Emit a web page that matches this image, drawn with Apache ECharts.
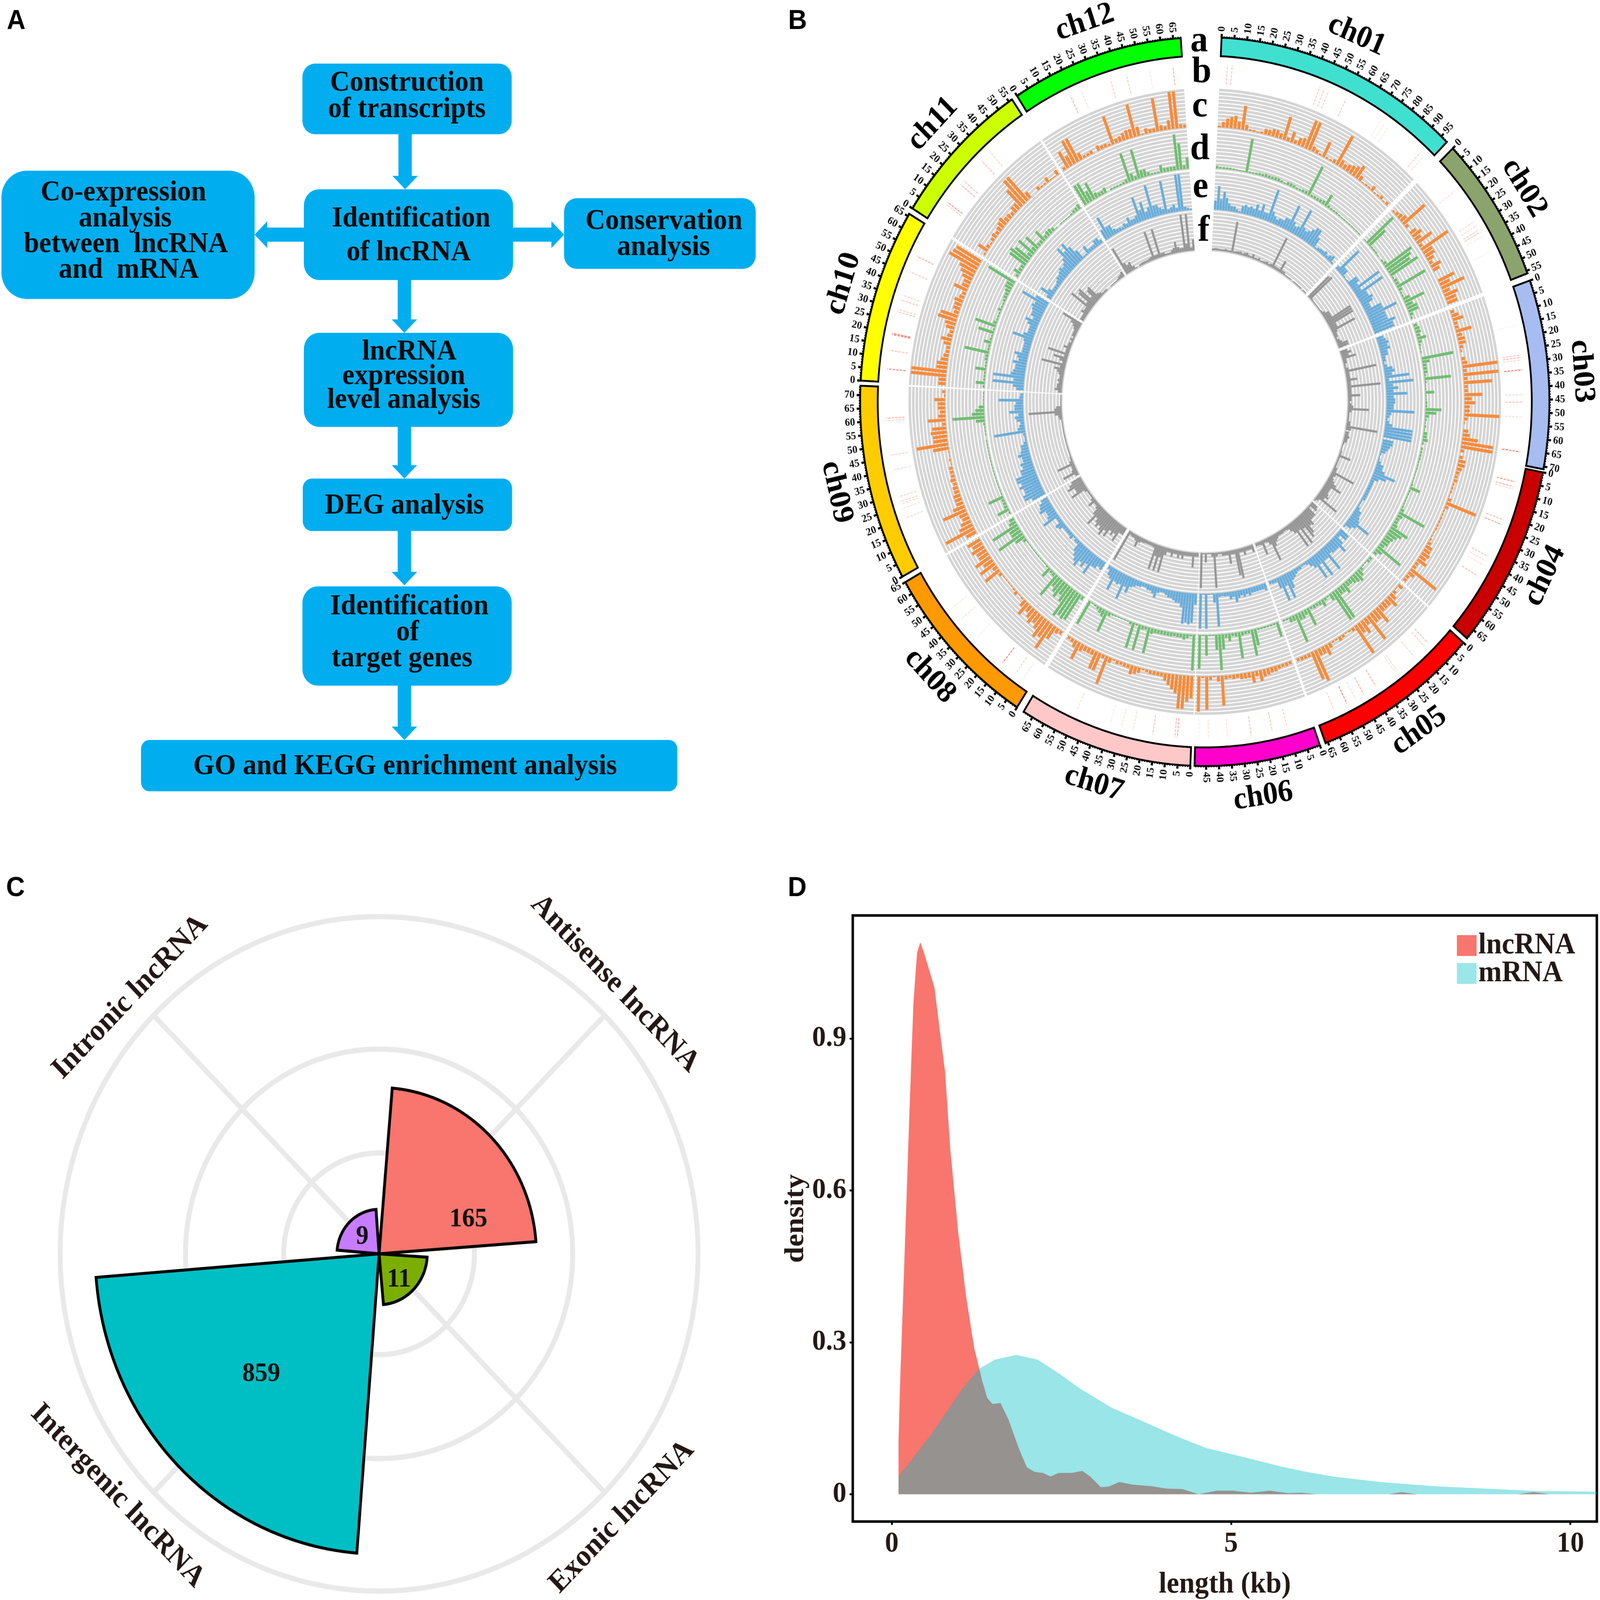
<!DOCTYPE html>
<html><head><meta charset="utf-8">
<style>html,body{margin:0;padding:0;background:#fff;overflow:hidden;width:100%;height:100%}#c{width:4550px;height:4303px;transform-origin:0 0}</style>
<script src="https://cdn.jsdelivr.net/npm/echarts@6/dist/echarts.min.js"></script>
</head><body><div id="c"></div>
<script>
const SERIF='"Liberation Serif"', SANS='"Liberation Sans"', INK='#231815';

// ---------- Panel A : flow chart ----------
const flowBoxes=[[860,171,595,190,36],[864,509,595,244,44],[4,459,720,345,72],[1604,533,545,190,36],[864,895,595,253,44],[861,1287,595,141,26],[860,1577,595,267,44],[401,1990,1525,138,24]];
const flowArrows=[[1152,361,1152,509],[864,631,724,631],[1459,631,1604,631],[1150,753,1150,895],[1150,1148,1150,1287],[1150,1428,1150,1574],[1150,1844,1150,1990]];
const flowText=[['Construction',1157,224],['of transcripts',1157,295],['Identification',1169,589],['of lncRNA',1162,680],['Co-expression',351,519],['analysis',356,589],['between  lncRNA',358,658],['and  mRNA',366,727],['Conservation',1888,596],['analysis',1887,666],['lncRNA',1164,947],['expression',1148,1013],['level analysis',1148,1077],['DEG analysis',1150,1361],['Identification',1164,1632],['of',1159,1702],['target genes',1143,1772],['GO and KEGG enrichment analysis',1152,2062]];
const panelTags=[['A',46,58],['B',2268,58],['C',44,2390],['D',2267,2390]];
const trackTags=[['a',3410,112],['b',3417,195],['c',3412,287],['d',3412,402],['e',3414,504],['f',3423,622]];

// ---------- Panel B : circos ----------
const chromNames=['ch01','ch02','ch03','ch04','ch05','ch06','ch07','ch08','ch09','ch10','ch11','ch12'];
const chromStart=[2.8,46,70.6,101.2,131.4,160.5,182.4,213,241.3,273.3,302,327];
const chromEnd=[44.6,69.4,100.7,130.5,159.5,181.7,211.7,240.3,272.5,301,326,356];
const chromLen=[98,56,71,69,66,49.5,69,65,73.5,66,56.5,68];
const chromColor=['#40E0D0','#8BA36C','#A7BCF0','#C80000','#FF0000','#FF00CC','#FFC8C8','#FF9900','#FFCC00','#FFFF00','#CCFF00','#00FF00'];

// track b : [Mb, strength]
const trackB=[
[[3,.35],[5,.4],[43,.35],[45,.35],[47,.3],[55,.35],[72,.12],[74,.12],[76,.12],[93,.3],[95,.2]],
[[13,.2],[28,.25],[30,.25],[32,.3],[33,.35],[35,.15],[42,.1]],
[[15,.1],[27,.4],[28,.45],[29,.25],[33,.9],[43,.25],[46,.4],[52,.2],[66,.85]],
[[6,.7],[8,.5],[9,.25],[22,.4],[24,.6],[38,.4],[40,.25],[42,.2],[47,.4]],
[[10,.4],[12,.3],[18,.25],[27,.25],[28,.2],[38,.5],[44,.5],[52,.8],[58,.3],[48,.25]],
[[10.6,.3],[17,.4],[26,.4],[36,.2],[44,.2],[48,.1]],
[[6,.6],[7,.5],[16.5,.4],[25,.2],[30,.2],[35,.15],[50,.2]],
[[4,.15],[8,.3],[15,.8],[30,.1],[40,.2],[46,.15]],
[[61,.5],[60,.3],[46,.3],[40,.25],[29,.3],[27,.3],[26,.25],[24,.2],[20,.25]],
[[5.4,.8],[13,.4],[19.5,.9],[20,.9],[29,.4],[30,.3],[34,.4],[36,.3],[46,.35],[53,.55]],
[[9,.3],[10,.7],[19,.5],[21,.4],[32,.4],[37,.3]],
[[19,.5],[24,.2],[37,.3],[44,.35],[54,.15],[64,.5]]];

// tracks c-f : one value per 2 Mb bin, per chromosome
const trackC=[
[.5,1.5,2.5,3,3.5,2,6.5,1.5,.5,.5,.3,.5,1.5,1.5,2,2,1.5,6.5,1,3,1,2,2.5,8,8,1.5,1,.5,4.5,.5,.5,1,9,2,1.5,2,2.5,3,4,1.5,.3,.5,.5,1.5,.3,.5,1,.3,.8],
[.5,1,1.5,2,8,1,0,2,3,2,5,1,9,3,3,2,1,3,2,0,0,5,3,7,2,4,3,3],
[1,2,3,1,1,4.5,1.5,2,2,1,.5,0,1,1.5,10,1,10,1,8,1,1,5,2,3,1.5,1.5,10,1,.3,0,1.5,2,4.5,9,9,1],
[1,2,2,1.5,1,.8,1,.5,.5,.5,.3,1,9,1,.4,.4,.5,.5,.5,.5,.3,.3,.5,1,2,2,2.5,2,3,1,1,9,2,1,1],
[1.5,.3,1,2,3.5,2,2,2,5,3,3,8,2,4,3,9,1,.5,.3,.8,1.2,.5,.5,1.5,3,2,2,9,8,1,1,1,.8],
[.8,1,.8,1,1.5,1.5,1.8,2,3,1.5,3,1.5,1.5,1.5,1,1.2,.8,1,8,1.5,.3,1,9,.5,9.5],
[6,7,9,9,5,4,3,2,1,1,1,1,.7,.5,1.5,2,2.5,1,1,.8,1,.5,1.5,8,1,5,5,1.5,1.5,1.5,2,5,2,1,.8],
[1,1.5,4,8,5,6,4,3,4,3,2,4,2,.5,.3,1,.5,.3,.3,.3,.3,1,5,1.5,5,3,5,3,3,4,3,4],
[3,9,4,3,2,2.5,7,3.5,2,2,2,1.5,1.5,1,1.5,1,1,1,.3,.5,.3,.3,4.5,9,4,4,4.5,4,1,5,2,1.5,2,2,3,.3,.8],
[2,2,10,10,3,3,2,1.5,1,1,2,3,1.5,1,2.5,3,5.5,5,1.5,2,2,2.5,1.5,1,4,2,2,3,4,5,9,8.5,8],
[.5,3,1,.5,1,1.5,1,1.5,2,2.5,1.5,1.5,1,2,2,6,8.5,8.5,2,0,0,1,.5,.5,1.5,.3,.3,1.5],
[.8,5,3,7,7,2,.7,.7,1,0,1.5,1,1,.6,8,1.2,1.5,2,2.5,2.5,9,2.5,.4,1.5,1,1,9,1.5,1,2.5,10,10,1,.8]];
const trackD=[
[.7,.5,.5,.5,.5,.4,.3,.3,.3,9,.4,.4,.5,.6,.6,.8,.7,.7,.8,.8,.6,.4,.8,.8,.7,.5,.5,.7,.8,8.6,.6,.7,.7,.8,1,3.5,.7,.5,.5,.5,.4,.3,.3,.3,.3,.3,.3,.3,.3],
[.3,10,6,.5,.5,.5,.3,0,.5,1,9,8,7,9,.5,1,1,9,1,.5,.5,2,6,2,3,3,1,.5],
[1,1.5,1.5,1,2.5,1,.5,.3,.3,0,9,2,1,1,1,.5,7.5,.5,.3,.3,2.5,.3,.3,.5,.5,4.5,3,1,.5,.3,.5,.3,1,1,1.5,.5],
[.5,.5,.5,.5,.4,.4,.4,.3,.3,.3,.3,.5,3,.5,.4,.4,.4,.4,.5,1,8,1.5,1,1,1.5,5.5,4,3,2.5,2,2,1.5,8,2,1],
[.8,.8,.3,.3,1,2,3,2.5,2,1.5,1.5,3,2,2,9,9,2,.5,.8,2,1,.8,1,.7,5,1.5,2,2,8,1.5,1.5,.5,.5],
[4,.5,.5,.5,.5,.5,.5,4.5,7,.8,.8,1,7,1,.7,2,1,4,9.5,4,.3,.3,5.5,.3,9],
[9.5,.5,1,1.5,1,1,.8,1,1,1,1,1,1,1.5,7,.8,1,7,.5,7,.7,.3,.3,.3,.3,.4,.5,1,6,2,1.5,.8,.5,.3,7],
[1,8,8.5,8,9,5,3.5,5,4,3,7,1,.8,3,.5,.3,.3,.3,.3,.3,.3,.3,.3,.3,1,3,8,3,3,8,2,1.5],
[.5,3.5,1,.8,.8,4.5,.3,.3,.3,.3,.3,.3,.3,.3,.3,.3,.3,.3,.3,.3,.3,.3,.3,0,.3,.3,.3,.5,2.5,9,3.5,2.5,1.5,.3,.3,.3,.3],
[.5,2.5,.5,.5,.5,3,.5,.5,.8,.8,7,.6,.6,2,.6,.5,4.5,.5,6,1,.5,.5,.5,1,.5,.5,.7,1,1,1.5,2,2,8.5],
[.8,2,1,1,5.5,6,5,1.5,5.5,1.5,4.5,1,1,3.5,1,1.5,1.5,1,.3,0,.3,.3,.3,.3,.5,.8,1,1.5],
[6,6,3,5,1.5,1,1,1.5,0,.5,.5,.5,.5,.6,1,8,2,1,8,2,2,1,.5,.5,.5,2,1,1,1,1,9.5,7,1,3]];
const trackE=[
[2.5,6.5,3,5,3.5,2,1.5,1.5,.8,.5,2,2.5,2,2.5,2,3.5,2,4,2,2,9,3,2,1.5,2,2,3,3,7.5,3,2,2.5,8,3,2.5,3,4,5,5,3,.5,.8,1,1,1.5,.8,1.5,2,.5],
[1,8,2,2,.5,.3,.5,3,3,2,9,2,9,3,3,4,3.5,2,2,5,5,9,5,5,5,7,6,6],
[2,2.5,3,2.5,3,2,2,1,1,.5,1,2.5,3,2,7,1,8,2,3.5,2,6,2,2.5,2.5,2,2,8,1.5,1,.5,1,2,8,8,8,8],
[3,3,2.5,2,1.5,.5,.3,.5,1,2,2,3,6.5,4,2,1,1,1,1,1,1,1,1,.5,.5,.5,1,2,2,2.5,3,7,3,2,.5],
[3,3,1,3,5,3,3,3,2.5,7.5,3,3,7.5,3,7,3,2,1,.6,.6,1,1,1.5,2,2.5,4.5,7,3,7,3,1,1,.8],
[2,1.5,1.5,1.5,1.5,1.5,2,1.5,2,1.5,2,3,1.5,2,1,1,.8,1,9,2.5,.3,.3,9.5,.3,9.5],
[3,8,8.5,8,8.5,4,3,3,2.5,2,2,1.5,1,1,1.5,3,2,1.5,1.5,1,1,1.5,1.5,2,2.5,4.5,3,7,3,3.5,3,6,3,2.5,1],
[2.5,2,3,3,6,3.5,5,4,6,5,4,3,1,1,.5,1.5,1,1,1,1,2,2.5,1,1,5,3,2.5,2.5,4,3.5,3,2],
[4,6,6,5,5,6,5,6,6,4,4,3,3.5,2.5,2.5,3.5,2.5,2,2,1,.5,.5,.7,9,2,1.5,1,2,2.5,1.5,4,2.5,2.5,2,7,1,.7],
[2,3,9,3,9,4,3.5,3,3,4,2.5,3,4,2,2,2,2,2.5,6,3,2,2,2,3,4,2,3,3,3.5,4,3.5,8,4],
[1.5,4,2,1,1,1,1.5,2,2,2.5,3,2.5,3,4,7,5,7,5,3,.5,.5,2.5,1,1,1,2,2,1],
[3,6.5,3,3,1.5,1,1,.7,1.5,1,2.5,1.5,1.5,2,7,3,5,2,3,9,3,3,2,1.5,9,1,1.5,2,1,10,10,1,.6,.4]];
const trackF=[
[.5,.6,.6,.5,.5,.5,.7,.5,.5,8.5,.5,.6,.7,.8,.5,.8,1,.6,.5,1.2,.5,.5,.8,.4,.5,.6,.8,.5,.8,9,.8,.7,.7,3.5,.8,.8,.3,.3,.3,.3,0,.3,.3,.3,.3,.3,0,.3,.3],
[8,8.5,.5,.3,.3,.3,.3,.3,.3,.5,1,2,2,2,8,8,8,2,2,7.5,1.5,1,1,.5,1,1.5,3,3],
[2,3,2,4,1,1,.5,.5,1,9,1,1,1,3,1,1,9.5,1,1,1,3.5,1,1,.5,1,1.5,6,1,.5,.5,.5,.5,1,1,9,1.5],
[1,1,1.5,1,1,.5,.3,.3,.3,.5,.5,3.5,.5,.5,.5,.5,.5,1,1,7,1.5,1,1.5,2,3,5,2,2,2,2.5,3,2,7,1,.5],
[2,2.5,.5,3,3,3,4.5,4,6,7,3.5,8,3,8,3,2,1,.8,.8,1,1,1,1.5,2,3,7,2,1,.8,4,1,.8,.8],
[2,1,1,1,2,1,1,8,7,1,1,3.5,1,1,1,.5,.5,1,9.5,1,.3,.3,2.5,.3,9.5],
[1,1,4,1,1,1,1,2,1,2,1,1,2,1,1,2,7,3,7,3,7,1,.8,.8,.8,.8,1,1,1.5,3,1.5,1,1,.8,9],
[2,2,5,3,4,3,5.5,4,6,5,4,5,4,3,6,3,1.5,.8,.8,2.5,1,.5,.5,.5,.5,1,5,3,3,5,4,3],
[1,4.5,1.5,1,1,5,1,.5,.5,.3,.3,.3,.3,.3,.3,.3,.3,.3,.3,.3,.3,.3,.3,.3,.3,.3,.8,1,2,9.5,2,1.5,.3,.3,.3,.3,.3],
[1,2,1.5,1.5,1,1.5,1,1,1.5,2,3,1.5,7,1,2,4,1,6,1,1,2,1,1,.5,1,.5,1,1,1,1.5,2,3,6],
[1,1,1,2,1.5,1.5,7,2,5.5,6,2,4,4.5,1.5,1,.5,.5,.5,0,0,.3,.3,.3,.3,.5,.8,1,1.5],
[8,3,2,2.5,1,.3,0,.5,.6,.6,.6,.6,.8,1,8,1,1,8,1,1,.5,.5,.5,1,1.5,3,1.5,1,1,10,2,10,.8,3]];
const trackColors=['#F78B3B','#6FBE70','#68ADDB','#969696'];
const trackData=[trackC,trackD,trackE,trackF];
const trackRadius=[[739,839],[628,729],[517,616],[408,507]];
const barWidths=[8.5,7.5,7,6];

// ---------- Panel C : rose ----------
const roseNames=['Antisense lncRNA','Exonic lncRNA','Intergenic lncRNA','Intronic lncRNA'];
const roseCounts=[165,11,859,9];
const roseHeight=[.493,.151,.89,.132];
const roseCenter=[45.3,134.3,225,315.3];
const roseColors=['#F8766D','#7CAE00','#00BFC4','#C77CFF'];
const roseRings=[.299,.607,1];
const roseSpokes=[45,135,225,315];
const roseCountPos=[[.298,70],[.099,141],[.514,226],[.073,314]];
const roseNamePos=[[1.09,42.7,-45],[1.09,135.7,45],[1.09,228.8,-45],[1.09,314.3,45]];

// ---------- Panel D : density ----------
const lncLength=[.1,.1,.124,.2,.264,.319,.373,.42,.474,.552,.63,.708,.785,.863,.98,1.096,1.213,1.33,1.407,1.485,1.602,1.718,1.874,1.99,2.107,2.224,2.34,2.457,2.652,2.807,2.924,3.079,3.196,3.351,3.546,3.818,4.051,4.285,4.518,4.79,5.023,5.295,5.568,5.84,6.034,6.267,7.317,7.512,7.745,9.222,9.456,9.689,10.3];
const lncDensity=[0,.11,.225,.516,.77,.97,1.07,1.09,1.07,1.035,1,.916,.835,.68,.516,.39,.29,.225,.19,.178,.18,.148,.09,.053,.044,.042,.035,.042,.042,.046,.035,.014,.015,.024,.019,.016,.011,.01,0,.007,.007,.003,.007,.002,.003,0,0,.004,0,0,.004,0,0];
const mrnaLength=[.1,.1,.28,.59,.824,1.06,1.29,1.524,1.835,2.146,2.457,2.768,3.235,3.7,4.168,4.635,5.257,5.723,6.112,6.5,7.2,7.98,8.756,9.53,10.39];
const mrnaDensity=[0,.035,.066,.12,.166,.212,.248,.266,.275,.266,.239,.209,.171,.144,.116,.091,.071,.055,.044,.035,.024,.016,.011,.006,.005];

// ---------- helpers ----------
const zip=(a,b)=>a.map((v,i)=>[v,b[i]]);
function arc(api,r,a0,a1,step){const n=Math.max(2,Math.ceil(Math.abs(a1-a0)/(step||0.5)));const p=[];for(let i=0;i<=n;i++)p.push(api.coord([r,a0+(a1-a0)*i/n]));return p;}
function hiddenAngle(i){return{polarIndex:i,type:'value',min:0,max:360,startAngle:90,clockwise:true,axisLine:{show:false},axisTick:{show:false},axisLabel:{show:false},splitLine:{show:false}};}
function hiddenRadius(i,max){return{polarIndex:i,type:'value',min:0,max:max,axisLine:{show:false},axisTick:{show:false},axisLabel:{show:false},splitLine:{show:false}};}
const txt=(text,size,fam,color,align,rot)=>({type:'text',rotation:rot||0,style:{text:text,x:0,y:0,fontSize:size,fontFamily:fam,fontWeight:'bold',fill:color,align:align||'center',textAlign:align||'center',verticalAlign:'middle',textVerticalAlign:'middle'}});
const polarBase=(i)=>({type:'custom',coordinateSystem:'polar',polarIndex:i,silent:true,encode:{radius:0,angle:1},animation:false});

const CENTER=[3426,1080];
const polar=[],angleAxis=[],radiusAxis=[],series=[];
trackRadius.forEach((r,i)=>{polar.push({center:CENTER,radius:r});angleAxis.push(hiddenAngle(i));radiusAxis.push(hiddenRadius(i,10));});
polar.push({center:CENTER,radius:[855,907]});angleAxis.push(hiddenAngle(4));radiusAxis.push(hiddenRadius(4,1));
polar.push({center:CENTER,radius:[0,1100]});angleAxis.push(hiddenAngle(5));radiusAxis.push(hiddenRadius(5,1100));
polar.push({center:[1078,3372],radius:[0,907]});angleAxis.push(hiddenAngle(6));radiusAxis.push(hiddenRadius(6,1));

trackData.forEach((tr,t)=>{
  const gridItems=[],bars=[];
  chromNames.forEach((_,c)=>{
    const a0=chromStart[c]-(c?0.25:0),a1=chromEnd[c]+(c<11?0.25:0);
    for(let l=0;l<=10;l++)gridItems.push([l,a0,a1]);
    const arr=tr[c],w=chromEnd[c]-chromStart[c];
    arr.forEach((v,i)=>{if(v>0)bars.push([v,chromStart[c]+(i+.5)/arr.length*w]);});
  });
  series.push(Object.assign(polarBase(t),{data:gridItems,z:1,renderItem:(p,api)=>({type:'polyline',shape:{points:arc(api,api.value(0),api.value(1),api.value(2))},style:{stroke:'#d4d4d4',lineWidth:7,fill:'none'}})}));
  series.push(Object.assign(polarBase(t),{data:bars,z:2,renderItem:(p,api)=>({type:'line',shape:(()=>{const a=api.coord([0,api.value(1)]),b=api.coord([api.value(0),api.value(1)]);return{x1:a[0],y1:a[1],x2:b[0],y2:b[1]};})(),style:{stroke:trackColors[t],lineWidth:barWidths[t],lineCap:'butt'}})}));
});
const bItems=[];
trackB.forEach((list,c)=>list.forEach(d=>bItems.push([d[1],chromStart[c]+d[0]*(chromEnd[c]-chromStart[c])/chromLen[c]])));
series.push(Object.assign(polarBase(4),{data:bItems,z:2,renderItem:(p,api)=>{const a=api.coord([0,api.value(1)]),b=api.coord([1,api.value(1)]);return{type:'line',shape:{x1:a[0],y1:a[1],x2:b[0],y2:b[1]},style:{stroke:'#EE4A30',opacity:api.value(0)*.85,lineWidth:2.5,lineDash:[7,3]}};}}));
series.push(Object.assign(polarBase(5),{data:chromNames.map((_,c)=>[980,chromStart[c],chromEnd[c]]),z:3,renderItem:(p,api)=>{const c=p.dataIndex,a0=api.value(1),a1=api.value(2);const pts=arc(api,980,a0,a1,.4).concat(arc(api,930,a1,a0,.4));return{type:'polygon',shape:{points:pts},style:{fill:chromColor[c],stroke:'#000',lineWidth:5,lineJoin:'miter'}};}}));
const tickItems=[],minorItems=[];
chromNames.forEach((_,c)=>{const k=(chromEnd[c]-chromStart[c])/chromLen[c];for(let m=0;m<=chromLen[c];m++){const a=chromStart[c]+m*k;if(m%5===0)tickItems.push([m,a]);else minorItems.push([m,a]);}});
series.push(Object.assign(polarBase(5),{data:minorItems,z:3,renderItem:(p,api)=>{const a=api.coord([980,api.value(1)]),b=api.coord([984,api.value(1)]);return{type:'line',shape:{x1:a[0],y1:a[1],x2:b[0],y2:b[1]},style:{stroke:'#000',lineWidth:3}};}}));
series.push(Object.assign(polarBase(5),{data:tickItems,z:3,renderItem:(p,api)=>{const th=api.value(1),a=api.coord([980,th]),b=api.coord([990,th]),q=api.coord([996,th]);const right=th>180;const rot=-(th-(right?270:90))*Math.PI/180;const t=txt(String(api.value(0)),29,SERIF,'#111',right?'right':'left',rot);t.x=q[0];t.y=q[1];return{type:'group',children:[{type:'line',shape:{x1:a[0],y1:a[1],x2:b[0],y2:b[1]},style:{stroke:'#000',lineWidth:6}},t]};}}));
series.push(Object.assign(polarBase(5),{data:chromNames.map((_,c)=>[1075,(chromStart[c]+chromEnd[c])/2]),z:3,renderItem:(p,api)=>{const th=api.value(1),q=api.coord([1075,th]);let cw=th;if(th>270)cw=th-360;else if(th>100)cw=th-180;const t=txt(chromNames[p.dataIndex],85,SERIF,'#000','center',-cw*Math.PI/180);t.x=q[0];t.y=q[1];return t;}}));

series.push(Object.assign(polarBase(6),{data:roseRings.map(r=>[r,0]),z:1,renderItem:(p,api)=>({type:'polyline',shape:{points:arc(api,api.value(0),0,360,1)},style:{stroke:'#E9E9E9',lineWidth:14,fill:'none'}})}));
series.push(Object.assign(polarBase(6),{data:roseSpokes.map(a=>[1,a]),z:1,renderItem:(p,api)=>{const a=api.coord([0,api.value(1)]),b=api.coord([1,api.value(1)]);return{type:'line',shape:{x1:a[0],y1:a[1],x2:b[0],y2:b[1]},style:{stroke:'#E9E9E9',lineWidth:14}};}}));
series.push(Object.assign(polarBase(6),{data:roseHeight.map((h,i)=>[h,roseCenter[i]]),z:2,renderItem:(p,api)=>{const r=api.value(0),th=api.value(1);const pts=[api.coord([0,0])].concat(arc(api,r,th-40.5,th+40.5,.5));return{type:'polygon',shape:{points:pts},style:{fill:roseColors[p.dataIndex],stroke:'#000',lineWidth:8,lineJoin:'miter'}};}}));
series.push(Object.assign(polarBase(6),{data:roseCountPos,z:3,renderItem:(p,api)=>{const q=api.coord([api.value(0),api.value(1)]);const t=txt(String(roseCounts[p.dataIndex]),72,SERIF,'#111');t.x=q[0];t.y=q[1];return t;}}));
series.push(Object.assign(polarBase(6),{data:roseNamePos,z:3,renderItem:(p,api)=>{const q=api.coord([api.value(0),api.value(1)]);const t=txt(roseNames[p.dataIndex],82,SERIF,INK,'center',roseNamePos[p.dataIndex][2]*Math.PI/180);t.x=q[0];t.y=q[1];return t;}}));

series.push({name:'lncRNA',type:'line',xAxisIndex:0,yAxisIndex:0,data:zip(lncLength,lncDensity),showSymbol:false,symbol:'none',smooth:false,lineStyle:{width:0},areaStyle:{color:'#F8766D',opacity:1},itemStyle:{color:'#F8766D'},silent:true,z:2});
series.push({name:'mRNA',type:'line',xAxisIndex:0,yAxisIndex:0,data:zip(mrnaLength,mrnaDensity),showSymbol:false,symbol:'none',smooth:false,lineStyle:{width:0},areaStyle:{color:'#00BFC4',opacity:.4},itemStyle:{color:'#00BFC4'},silent:true,z:3});

const graphicEls=[];
flowBoxes.forEach(b=>graphicEls.push({type:'rect',shape:{x:b[0],y:b[1],width:b[2],height:b[3],r:b[4]},style:{fill:'#00AEEF'}}));
flowArrows.forEach(a=>{const dx=a[2]-a[0],dy=a[3]-a[1],L=Math.hypot(dx,dy),ux=dx/L,uy=dy/L,px=-uy,py=ux,s=19,h=36,hl=36;const bx=a[2]-ux*hl,by=a[3]-uy*hl;
  graphicEls.push({type:'polygon',shape:{points:[[a[0]+px*s,a[1]+py*s],[bx+px*s,by+py*s],[bx+px*h,by+py*h],[a[2],a[3]],[bx-px*h,by-py*h],[bx-px*s,by-py*s],[a[0]-px*s,a[1]-py*s]]},style:{fill:'#00AEEF'}});});
flowText.forEach(t=>{const e=txt(t[0],78,SERIF,'#0a0a0a');e.x=t[1];e.y=t[2];graphicEls.push(e);});
panelTags.forEach(t=>{const e=txt(t[0],74,SANS,'#000');e.x=t[1];e.y=t[2];graphicEls.push(e);});
trackTags.forEach(t=>{const e=txt(t[0],100,SERIF,'#000');e.x=t[1];e.y=t[2];e.z=20;graphicEls.push(e);});

// The drawing is laid out on the reference's 4550x4303 page and fitted to the actual window.
const box=document.getElementById('c');
box.style.transform='scale('+(window.innerWidth/4550)+','+(window.innerHeight/4303)+')';
const chart=echarts.init(box,null,{renderer:'canvas',width:4550,height:4303,devicePixelRatio:1});
chart.setOption({
  animation:false,backgroundColor:'#fff',
  polar,angleAxis,radiusAxis,
  grid:{left:2425,top:2462,width:2116,height:1639,show:true,borderColor:'#000',borderWidth:7,backgroundColor:'#fff',containLabel:false},
  xAxis:{type:'value',min:-0.575,max:10.39,splitLine:{show:false},axisLine:{show:false,onZero:false},
    axisTick:{show:true,length:9,lineStyle:{color:'#000',width:5},customValues:[0,5,10]},
    axisLabel:{customValues:[0,5,10],fontFamily:SERIF,fontWeight:'bold',fontSize:78,color:INK,margin:22},
    name:'length (kb)',nameLocation:'middle',nameGap:130,nameTextStyle:{fontFamily:SERIF,fontWeight:'bold',fontSize:80,color:INK}},
  yAxis:{type:'value',min:-0.054,max:1.143,splitLine:{show:false},axisLine:{show:false,onZero:false},
    axisTick:{show:true,length:9,lineStyle:{color:'#000',width:5},customValues:[0,.3,.6,.9]},
    axisLabel:{customValues:[0,.3,.6,.9],fontFamily:SERIF,fontWeight:'bold',fontSize:78,color:INK,margin:18},
    name:'density',nameLocation:'middle',nameGap:122,nameRotate:90,nameTextStyle:{fontFamily:SERIF,fontWeight:'bold',fontSize:78,color:INK}},
  legend:{left:4138,top:2498,orient:'vertical',itemWidth:56,itemHeight:56,itemGap:-5,selectedMode:false,
    textStyle:{fontFamily:SERIF,fontWeight:'bold',fontSize:80,color:INK},
    data:[{name:'lncRNA',icon:'rect',itemStyle:{color:'#F8766D'}},{name:'mRNA',icon:'rect',itemStyle:{color:'#9BE6E9'}}]},
  graphic:{elements:graphicEls},
  series
});
</script></body></html>
